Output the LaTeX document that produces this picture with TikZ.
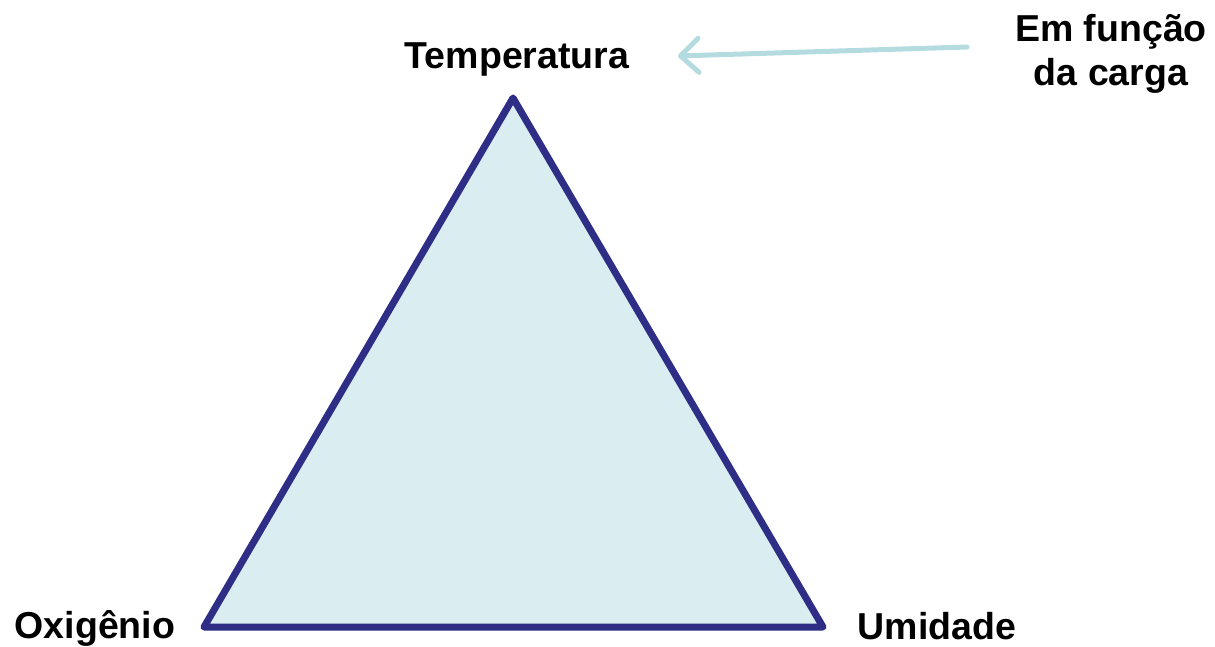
\documentclass[tikz,border=0pt]{standalone}
\usepackage{fontspec}
\setmainfont{Liberation Sans}
\usepackage{xcolor}
\usetikzlibrary{arrows.meta}
\definecolor{EdgeNavy}{HTML}{2E2E86}
\definecolor{FillIce}{HTML}{DAEDF0}
\definecolor{ArrowTeal}{HTML}{B4DCE0}
\definecolor{TextDark}{HTML}{000000}

\begin{document}
\begin{tikzpicture}[x=1pt,y=-1pt,
                    every node/.style={font=\fontsize{37.5}{44}\selectfont\bfseries,text=TextDark,inner sep=0pt},
                    ar/.style={-{Straight Barb[length=18pt,width=34pt,line cap=round,line join=round]},line width=5pt,ArrowTeal,line cap=round}]
      \useasboundingbox (0,0) rectangle (1215,647);
      % triangle
      \coordinate (top) at (513,98);
      \coordinate (left) at (204,627);
      \coordinate (right) at (823,627);
      \draw[EdgeNavy, fill=FillIce, line width=7pt, line join=round]
        (top) -- (right) -- (left) -- cycle;
      % labels
      \node (temp) at (517,59) {Temperatura};
      \node (oxi) at (95,628) {Oxigênio};
      \node (umid) at (937,626) {Umidade};
      \node[align=center] (carga) at (1111,54) {Em função\\da carga};
      % arrow
      \coordinate (arStart) at (967,47);
      \coordinate (arEnd) at (678,56);
      \draw[ar] (arStart) -- (arEnd);
    \end{tikzpicture}
\end{document}
